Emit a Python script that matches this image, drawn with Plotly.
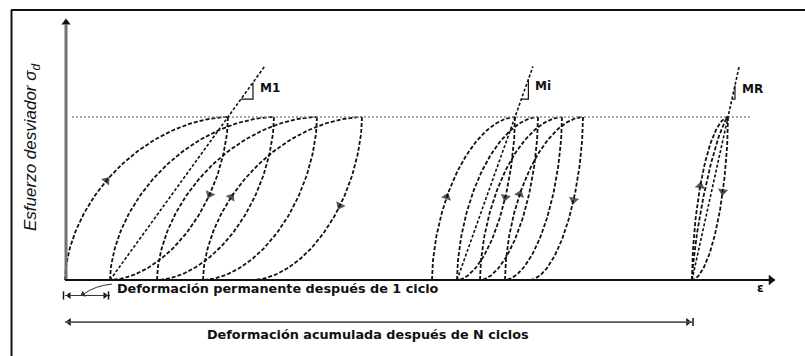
import numpy as np
import plotly.graph_objects as go

# Schematic stress-strain response of a granular material under repeated loading.
# Strain is in arbitrary units measured from the origin; stress is normalised by
# the applied deviator stress.
SIGMA_D = 1.0

# first cycles: residual strain at the start/end of each cycle and strain at peak stress
RES_FIRST = [0.00, 0.45, 0.92, 1.38, 1.88]
PEAK_FIRST = [1.63, 2.09, 2.52, 2.97]

# cycles around cycle i
RES_MID = [3.67, 3.92, 4.15, 4.40, 4.65]
PEAK_MID = [4.50, 4.73, 4.97, 5.18]

# resilient (closed) loop after N cycles
RES_LAST = 6.27
PEAK_LAST = 6.63

MOD_TOP = 1.31          # stress where the secant-modulus lines end
MOD_LABELS = ["M1", "Mi", "MR"]

# stress levels where the direction arrows sit (first cycle, last cycle of each group)
ARROWS_FIRST = [0.61, 0.52, 0.51, 0.46]
ARROWS_MID = [0.51, 0.51, 0.52, 0.49]
ARROWS_LAST = [0.57, 0.54]

X_RANGE = [-0.65, 7.40]
Y_RANGE = [-0.4663, 1.7178]
W, H = 805, 356

INK = "#111111"
DASH = "4px,2px"


def loading(e0, e1, k=1.8, n=80):
    t = np.linspace(0, np.pi / 2, n)
    f = 1 - np.cos(t) ** (2 / k)
    s = np.sin(t) ** (2 / k)
    return e0 + (e1 - e0) * f, SIGMA_D * s


def unloading(e_peak, e_res, k=1.8, n=80):
    t = np.linspace(np.pi / 2, 0, n)
    g = np.sin(t) ** (2 / k)
    s = 1 - np.cos(t) ** (2 / k)
    return e_res + (e_peak - e_res) * g, SIGMA_D * s


fig = go.Figure()


def branch(x, y, width=1.8):
    fig.add_trace(go.Scatter(x=x, y=y, mode="lines", hoverinfo="skip",
                             line=dict(color=INK, width=width, dash=DASH)))


def arrow_on(x, y, level):
    i = int(np.argmin(np.abs(y - level)))
    i = max(i, 1)
    fig.add_trace(go.Scatter(
        x=[x[i - 1], x[i]], y=[y[i - 1], y[i]], mode="markers", hoverinfo="skip",
        marker=dict(symbol="triangle-up", size=[0, 9], color=INK,
                    angleref="previous", line=dict(width=0))))


def head(x, y, angle, size=7, color=INK):
    fig.add_trace(go.Scatter(
        x=[x], y=[y], mode="markers", hoverinfo="skip",
        marker=dict(symbol="triangle-up", size=size, color=color, angle=angle,
                    line=dict(width=0))))


def cycle_group(res, peak, arrow_levels):
    n = len(peak)
    for j in range(n):
        lx, ly = loading(res[j], peak[j])
        ux, uy = unloading(peak[j], res[j + 1])
        branch(lx, ly)
        branch(ux, uy)
        if j == 0:
            arrow_on(lx, ly, arrow_levels[0])
            arrow_on(ux, uy, arrow_levels[1])
        if j == n - 1:
            arrow_on(lx, ly, arrow_levels[2])
            arrow_on(ux, uy, arrow_levels[3])


cycle_group(RES_FIRST, PEAK_FIRST, ARROWS_FIRST)
cycle_group(RES_MID, PEAK_MID, ARROWS_MID)

# closed resilient loop
lx, ly = loading(RES_LAST, PEAK_LAST)
ux, uy = unloading(PEAK_LAST, RES_LAST)
branch(lx, ly)
branch(ux, uy)
arrow_on(lx, ly, ARROWS_LAST[0])
arrow_on(ux, uy, ARROWS_LAST[1])
ix, iy = loading(RES_LAST, PEAK_LAST, k=1.35)
branch(ix, iy)

# applied deviator stress level
fig.add_trace(go.Scatter(x=[0.07, 6.85], y=[SIGMA_D, SIGMA_D], mode="lines",
                         hoverinfo="skip",
                         line=dict(color="#8a8a8a", width=1.3, dash="2px,2px")))

# secant moduli: from the residual strain through the peak
mod_lines = [(RES_FIRST[1], PEAK_FIRST[0], 0.12),
             (RES_MID[1], PEAK_MID[0], 0.07),
             (RES_LAST, PEAK_LAST, 0.03)]
annotations = []
for (e0, ep, dx), lab in zip(mod_lines, MOD_LABELS):
    slope = (ep - e0) / SIGMA_D
    fig.add_trace(go.Scatter(x=[e0, e0 + slope * MOD_TOP], y=[0, MOD_TOP],
                             mode="lines", hoverinfo="skip",
                             line=dict(color=INK, width=1.6, dash="3px,2px")))
    s_a = 1.11
    e_a = e0 + slope * s_a
    s_b = s_a + dx / slope
    fig.add_trace(go.Scatter(x=[e_a, e_a + dx, e_a + dx], y=[s_a, s_a, s_b],
                             mode="lines", hoverinfo="skip",
                             line=dict(color=INK, width=1.2)))
    annotations.append(dict(x=e_a + dx, y=(s_a + s_b) / 2 + 0.02, text=lab,
                            xanchor="left", yanchor="middle", xshift=5,
                            showarrow=False,
                            font=dict(family="DejaVu Sans", size=12,
                                      color=INK, weight="bold")))

shapes = []
# frame
shapes.append(dict(type="line", xref="paper", yref="paper", x0=11.5 / W, x1=11.5 / W,
                   y0=0, y1=1 - 10 / H, line=dict(color=INK, width=2)))
shapes.append(dict(type="line", xref="paper", yref="paper", x0=11 / W, x1=1,
                   y0=1 - 10 / H, y1=1 - 10 / H, line=dict(color=INK, width=2)))
# stress axis
shapes.append(dict(type="line", x0=0.01, x1=0.01, y0=0, y1=1.57,
                   line=dict(color="#707070", width=3)))
head(0.01, 1.58, 0, size=8)
# strain axis
shapes.append(dict(type="line", x0=0, x1=7.04, y0=0, y1=0,
                   line=dict(color=INK, width=2.2)))
head(7.06, 0, 90, size=9)
annotations.append(dict(x=6.95, y=-0.05, text="ε", showarrow=False,
                        font=dict(family="DejaVu Sans", size=12, color=INK,
                                  weight="bold")))

# permanent strain after the first cycle
y_b1 = -0.095
shapes.append(dict(type="line", x0=RES_FIRST[0], x1=RES_FIRST[1], y0=y_b1, y1=y_b1,
                   line=dict(color="#333", width=1)))
head(RES_FIRST[0] + 0.04, y_b1, 270, size=6)
head(RES_FIRST[1] - 0.05, y_b1, 90, size=6)
for e in (RES_FIRST[0], RES_FIRST[1]):
    shapes.append(dict(type="line", x0=e - 0.015, x1=e - 0.015, y0=y_b1 - 0.025,
                       y1=y_b1 + 0.025, line=dict(color=INK, width=1.5)))
shapes.append(dict(type="path",
                   path="M 0.47,-0.025 Q 0.30,-0.035 0.19,-0.085",
                   line=dict(color="#333", width=1)))
head(0.18, -0.088, 240, size=6, color="#333")
annotations.append(dict(x=0.50, y=-0.05, text="Deformación permanente después de 1 ciclo",
                        xanchor="left", yanchor="middle", showarrow=False,
                        font=dict(family="DejaVu Sans", size=12.8, color=INK,
                                  weight="bold")))

# accumulated strain after N cycles
y_b2 = -0.258
shapes.append(dict(type="line", x0=RES_FIRST[0], x1=RES_LAST, y0=y_b2, y1=y_b2,
                   line=dict(color="#555", width=1.8)))
head(RES_FIRST[0] + 0.04, y_b2, 270, size=7)
head(RES_LAST - 0.04, y_b2, 90, size=7)
shapes.append(dict(type="line", x0=RES_LAST + 0.01, x1=RES_LAST + 0.01,
                   y0=y_b2 - 0.025, y1=y_b2 + 0.025, line=dict(color=INK, width=1.5)))
annotations.append(dict(x=3.03, y=-0.337, text="Deformación acumulada después de N ciclos",
                        xanchor="center", yanchor="middle", showarrow=False,
                        font=dict(family="DejaVu Sans", size=12.8, color=INK,
                                  weight="bold")))

# stress axis title
annotations.append(dict(x=-0.33, y=0.816, text="Esfuerzo desviador σ<sub>d</sub>",
                        textangle=-90, showarrow=False,
                        font=dict(family="Liberation Sans", size=17, color=INK,
                                  style="italic")))

fig.update_layout(
    width=W, height=H, margin=dict(l=0, r=0, t=0, b=0),
    paper_bgcolor="white", plot_bgcolor="white", showlegend=False,
    xaxis=dict(range=X_RANGE, visible=False, fixedrange=True),
    yaxis=dict(range=Y_RANGE, visible=False, fixedrange=True),
    shapes=shapes, annotations=annotations,
)

fig.write_html("out.html")
